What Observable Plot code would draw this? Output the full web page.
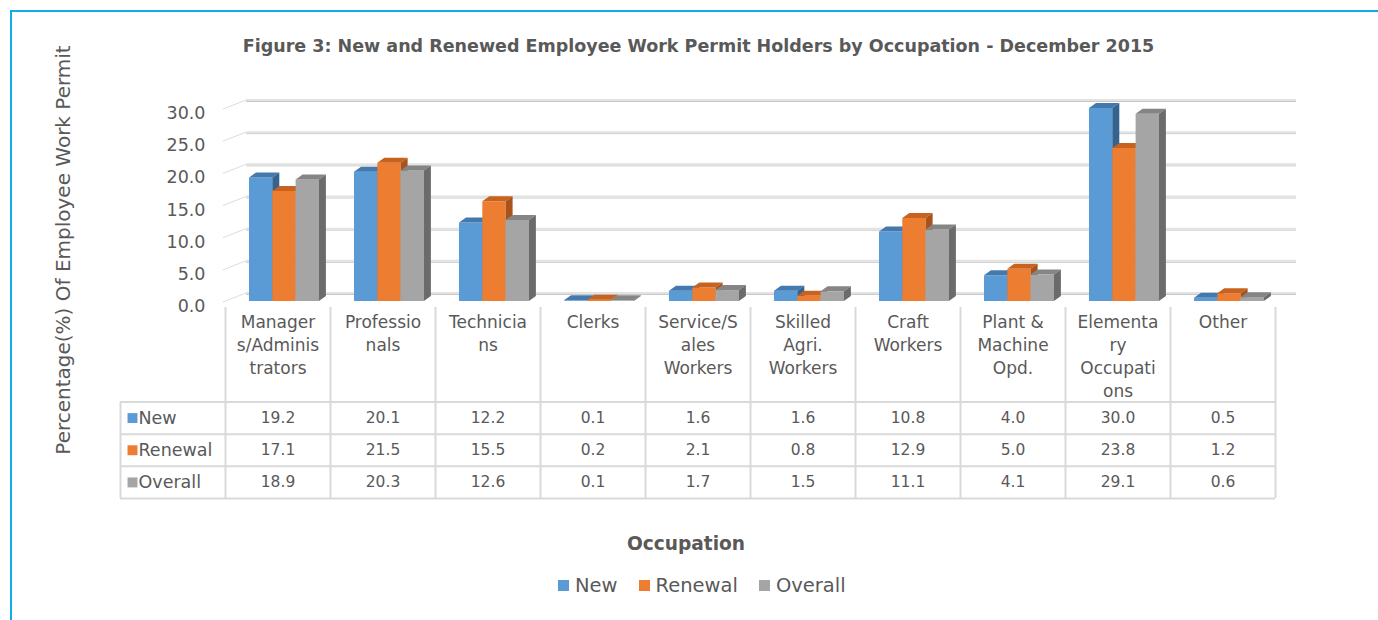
<!DOCTYPE html>
<html>
<head>
<meta charset="utf-8">
<script src="https://cdn.jsdelivr.net/npm/d3@7"></script>
<script src="https://cdn.jsdelivr.net/npm/@observablehq/plot@0.6"></script>
<style>
  html, body { margin: 0; padding: 0; background: #fff; overflow: hidden; }
  body { font-family: "DejaVu Sans", sans-serif; color: #595959; }
  #wrap { position: relative; width: 1378px; height: 620px; overflow: hidden; background: #fff; }
  #frame { position: absolute; left: 10px; top: 10px; width: 1400px; height: 700px;
           border-left: 2px solid #12ABEA; border-top: 2px solid #12ABEA; }
  #title { position: absolute; left: 0; width: 1397px; top: 36px; text-align: center;
           font-weight: bold; font-size: 17.5px; white-space: nowrap; }
  #ytitle { position: absolute; left: 63px; top: 250px; transform: translate(-50%, -50%) rotate(-90deg);
            white-space: nowrap; font-size: 20px; }
  #chart { position: absolute; left: 0; top: 85px; }
  #table { position: absolute; left: 0; top: 300px; }
  #xtitle { position: absolute; left: 0; width: 1372px; top: 533px; text-align: center;
            font-weight: bold; font-size: 18.6px; }
  #legend { position: absolute; left: 558px; top: 574px; display: flex; align-items: center;
            font-size: 19.5px; white-space: nowrap; }
  #legend .sw { display: inline-block; width: 11px; height: 11px; margin-right: 6px; }
  #legend .it { display: flex; align-items: center; margin-right: 21px; }
</style>
</head>
<body>
<div id="wrap">
  <div id="frame"></div>
  <div id="title">Figure 3: New and Renewed Employee Work Permit Holders by Occupation - December 2015</div>
  <div id="ytitle">Percentage(%) Of Employee Work Permit</div>
  <div id="chart"></div>
  <div id="table"></div>
  <div id="xtitle">Occupation</div>
  <div id="legend"></div>
</div>
<script>
// ---- data ----
const categories = ["Managers/Administrators", "Professionals", "Technicians", "Clerks",
  "Service/Sales Workers", "Skilled Agri. Workers", "Craft Workers", "Plant & Machine Opd.",
  "Elementary Occupations", "Other"];
const headerLabels = ["Manager\ns/Adminis\ntrators", "Professio\nnals", "Technicia\nns", "Clerks",
  "Service/S\nales\nWorkers", "Skilled\nAgri.\nWorkers", "Craft\nWorkers", "Plant &\nMachine\nOpd.",
  "Elementa\nry\nOccupati\nons", "Other"];
const seriesNames = ["New", "Renewal", "Overall"];
const newValues = [19.2, 20.1, 12.2, 0.1, 1.6, 1.6, 10.8, 4.0, 30.0, 0.5];
const renewalValues = [17.1, 21.5, 15.5, 0.2, 2.1, 0.8, 12.9, 5.0, 23.8, 1.2];
const overallValues = [18.9, 20.3, 12.6, 0.1, 1.7, 1.5, 11.1, 4.1, 29.1, 0.6];
const yTicks = [0, 5, 10, 15, 20, 25, 30];

// ---- styles ----
const frontColors = ["#5B9BD5", "#ED7D31", "#A5A5A5"];
const topColors = ["#4479AE", "#C7631F", "#858585"];
const sideColors = ["#35638F", "#A9531A", "#6B6B6B"];
const gridColor = "#D9D9D9";
const textColor = "#595959";
const font = "DejaVu Sans, sans-serif";

const seriesValues = [newValues, renewalValues, overallValues];
const rows = categories.map((c, i) => ({
  category: c, New: newValues[i], Renewal: renewalValues[i], Overall: overallValues[i]
}));

const W = 1378;
const mL = 225, mR = 103;
const bw = (W - mL - mR) / categories.length;   // band width in px
const barLeft = 24, barW = 23.3;                 // bar placement within band
const DX = 7, DY = 5;                            // bar depth
const WDX = 21, WDY = 8;                         // back wall depth

function bar3d(key, i) {
  return Plot.barY(rows, {
    x: "category", y: key, fill: frontColors[i],
    insetLeft: barLeft + i * barW,
    insetRight: bw - (barLeft + (i + 1) * barW),
    render(index, scales, values, dims, ctx, next) {
      const g = next(index, scales, values, dims, ctx);
      const sel = d3.select(g);
      const rects = sel.selectAll("rect").nodes();
      rects.forEach(r => {
        const x0 = +r.getAttribute("x"), y0 = +r.getAttribute("y");
        const w = +r.getAttribute("width"), h = +r.getAttribute("height");
        const x1 = x0 + w, yb = y0 + h;
        sel.append("path")
          .attr("d", `M${x0},${y0}L${x0 + DX},${y0 - DY}L${x1 + DX},${y0 - DY}L${x1},${y0}Z`)
          .attr("fill", topColors[i]);
        sel.append("path")
          .attr("d", `M${x1},${y0}L${x1 + DX},${y0 - DY}L${x1 + DX},${yb - DY}L${x1},${yb}Z`)
          .attr("fill", sideColors[i]);
      });
      return g;
    }
  });
}

const chart = Plot.plot({
  width: W, height: 240,
  marginLeft: mL, marginRight: mR, marginTop: 23, marginBottom: 24,
  style: { background: "transparent", fontFamily: font, color: textColor },
  x: { type: "band", domain: categories, padding: 0, axis: null },
  y: { domain: [0, 30], axis: null },
  marks: [
    // side wall diagonals
    Plot.ruleY(yTicks, {
      y: d => d,
      render(index, scales, values, dims) {
        const g = d3.create("svg:g");
        for (const j of index) {
          const yy = scales.y(yTicks[j]);
          g.append("line").attr("x1", dims.marginLeft - 2).attr("y1", yy + 1)
            .attr("x2", dims.marginLeft + WDX).attr("y2", yy - WDY)
            .attr("stroke", "#DDDDDD").attr("stroke-width", 1);
        }
        return g.node();
      }
    }),
    // back wall gridlines
    Plot.ruleY(yTicks, { y: d => d, dx: WDX, dy: -WDY + 1, stroke: "#C9C9C9", strokeWidth: 1 }),
    Plot.ruleY(yTicks, { y: d => d, dx: WDX, dy: -WDY - 0.5, stroke: "#E2E2E2", strokeWidth: 2 }),
    ...seriesNames.map((s, i) => bar3d(s, i)),
    Plot.axisY(yTicks, {
      tickFormat: d => d.toFixed(1), tickSize: 0, tickPadding: 20, dy: 5,
      fontSize: 17.5, fill: textColor, label: null
    })
  ]
});
document.getElementById("chart").appendChild(chart);

// ---- data table ----
const cols = ["", ...categories];
const tL = 120;
const tbw = (W - tL - mR) / cols.length;
const table = Plot.plot({
  width: W, height: 200,
  marginLeft: tL, marginRight: mR, marginTop: 5, marginBottom: 2,
  style: { background: "transparent", fontFamily: font, color: textColor },
  x: { type: "band", domain: cols, padding: 0, axis: null },
  y: { domain: [0, 6], reverse: true, axis: null },
  marks: [
    Plot.ruleY([3, 4, 5, 6], { y: d => d, stroke: gridColor, strokeWidth: 2 }),
    Plot.ruleX(cols, { x: d => d, y1: d => (d === "" ? 3 : 0.06), y2: 6, dx: -tbw / 2, stroke: gridColor, strokeWidth: 2 }),
    Plot.ruleX([categories[categories.length - 1]], { x: d => d, y1: 0.06, y2: 6, dx: tbw / 2, stroke: gridColor, strokeWidth: 2 }),
    Plot.text(categories, {
      x: d => d, y: 0, text: (d, i) => headerLabels[i],
      lineAnchor: "top", dy: 6, lineHeight: 1.36, fontSize: 17, fill: textColor
    }),
    ...seriesValues.map((vals, i) => Plot.text(categories, {
      x: d => d, y: 3.5 + i, text: (d, j) => vals[j].toFixed(1),
      fontSize: 15.5, fill: textColor, lineAnchor: "middle"
    })),
    ...seriesNames.map((s, i) => Plot.dot([s], {
      x: () => "", y: 3.5 + i, symbol: "square", r: 5.6, fill: frontColors[i], dx: -tbw / 2 + 12
    })),
    ...seriesNames.map((s, i) => Plot.text([s], {
      x: () => "", y: 3.5 + i, text: d => d, textAnchor: "start", dx: -tbw / 2 + 18,
      fontSize: 17.5, fill: textColor, lineAnchor: "middle"
    }))
  ]
});
document.getElementById("table").appendChild(table);

// ---- legend ----
const legend = document.getElementById("legend");
seriesNames.forEach((s, i) => {
  const it = document.createElement("span");
  it.className = "it";
  it.innerHTML = `<span class="sw" style="background:${frontColors[i]}"></span><span>${s}</span>`;
  legend.appendChild(it);
});
</script>
</body>
</html>
